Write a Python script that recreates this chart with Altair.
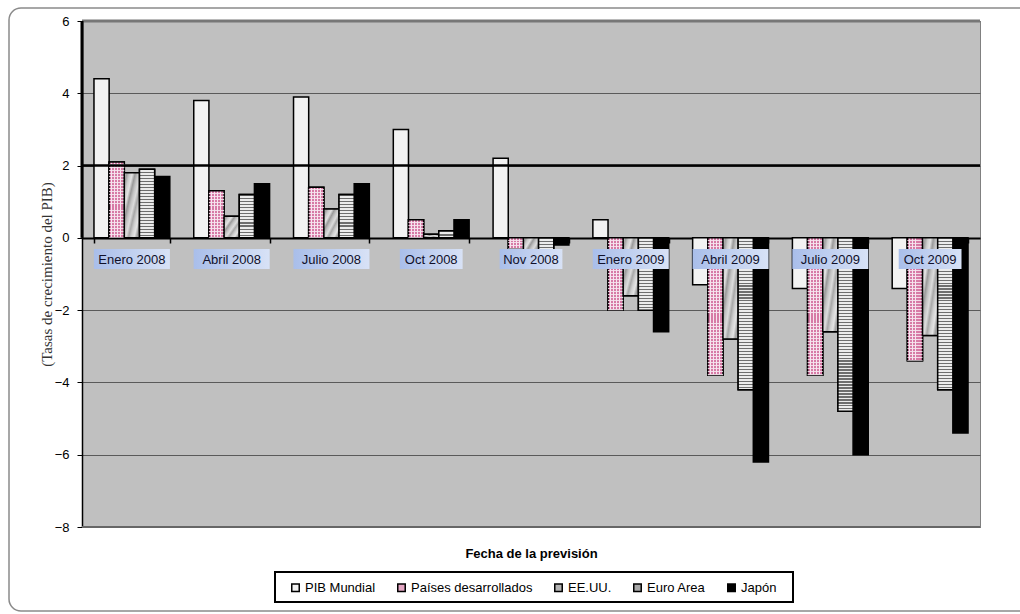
import altair as alt
import pandas as pd

# Fecha de cada previsión del FMI
fechas = ["Enero 2008", "Abril 2008", "Julio 2008", "Oct 2008", "Nov 2008",
          "Enero 2009", "Abril 2009", "Julio 2009", "Oct 2009"]
series = ["PIB Mundial", "Países desarrollados", "EE.UU.", "Euro Area", "Japón"]

# Tasas de crecimiento previstas (%)
pib_mundial = [4.4, 3.8, 3.9, 3.0, 2.2, 0.5, -1.3, -1.4, -1.4]
paises_desarrollados = [2.1, 1.3, 1.4, 0.5, -0.3, -2.0, -3.8, -3.8, -3.4]
eeuu = [1.8, 0.6, 0.8, 0.1, -0.7, -1.6, -2.8, -2.6, -2.7]
euro_area = [1.9, 1.2, 1.2, 0.2, -0.5, -2.0, -4.2, -4.8, -4.2]
japon = [1.7, 1.5, 1.5, 0.5, -0.2, -2.6, -6.2, -6.0, -5.4]

colores = ["#F2F2F2", "#E3A6C3", "#B4B4B4", "#A8A8A8", "#000000"]

ALTO = 506
ANCHO = 898
Y_MIN, Y_MAX = -8, 6
PX_POR_UNIDAD = ALTO / (Y_MAX - Y_MIN)

filas = []
for serie, valores in zip(series, [pib_mundial, paises_desarrollados, eeuu, euro_area, japon]):
    for fecha, valor in zip(fechas, valores):
        filas.append({"fecha": fecha, "serie": serie, "valor": valor})
df = pd.DataFrame(filas)
etiquetas = pd.DataFrame({"fecha": fechas})
uno = pd.DataFrame({"k": [0]})


def rayado(n, oscuro, claro, frac, vertical=True):
    """Degradado con n franjas de borde duro."""
    paradas = []
    for i in range(n):
        a, b, c = i / n, (i + frac) / n, (i + 1) / n
        paradas += [alt.GradientStop(color=oscuro, offset=a),
                    alt.GradientStop(color=oscuro, offset=b),
                    alt.GradientStop(color=claro, offset=b),
                    alt.GradientStop(color=claro, offset=c)]
    if vertical:
        return alt.Gradient(gradient="linear", stops=paradas, x1=0, x2=0, y1=0, y2=1)
    return alt.Gradient(gradient="linear", stops=paradas, x1=0, x2=1, y1=0, y2=0)


def franjas_por_altura(valor, periodo=3.0):
    return max(1, round(abs(valor) * PX_POR_UNIDAD / periodo))


azul = alt.Gradient(
    gradient="linear",
    stops=[alt.GradientStop(color="#A9BEEA", offset=0),
           alt.GradientStop(color="#D8E2F6", offset=1)],
    x1=0, x2=1, y1=0, y2=0,
)

marmol_tonos = ["#d6d6d6", "#a0a0a0", "#cdcdcd", "#e2e2e2", "#9a9a9a", "#c4c4c4",
                "#dcdcdc", "#a8a8a8", "#d0d0d0", "#e4e4e4", "#9e9e9e", "#c8c8c8"]
marmol = alt.Gradient(
    gradient="linear",
    stops=[alt.GradientStop(color=c, offset=i / (len(marmol_tonos) - 1))
           for i, c in enumerate(marmol_tonos)],
    x1=0, x2=1, y1=0, y2=1,
)

x_enc = alt.X(
    "fecha:N", sort=fechas,
    scale=alt.Scale(paddingInner=0.24, paddingOuter=0.12),
    axis=alt.Axis(
        offset=-289, domainColor="black", domainWidth=2,
        ticks=True, tickBand="extent", tickColor="black", tickSize=5, tickWidth=1.5,
        labels=False, grid=False,
        title="Fecha de la previsión", titleFont="Liberation Sans", titleFontSize=13,
        titleFontWeight="bold", titleColor="black", titleY=315, titleBaseline="middle",
    ),
)
y_enc = alt.Y(
    "valor:Q",
    scale=alt.Scale(domain=[Y_MIN, Y_MAX], nice=False),
    axis=alt.Axis(
        values=list(range(Y_MIN, Y_MAX + 1, 2)), grid=True, gridColor="#5a5a5a", gridWidth=1,
        domainColor="black", domainWidth=1.5, tickColor="black", tickSize=5,
        labelPadding=8, labelFont="Liberation Sans", labelFontSize=13, labelColor="black",
        title="(Tasas de crecimiento del PIB)", titleFont="Liberation Serif",
        titleFontSize=15, titleFontWeight="normal", titleColor="#333333",
        titleX=-36, titleY=253, titleAngle=270, titleAlign="center", titleBaseline="middle",
    ),
)
xoff = alt.XOffset("serie:N", sort=series, scale=alt.Scale(paddingInner=0, paddingOuter=0))


def capa_barras(filtro, relleno, trazo=True):
    marca = {"fill": relleno}
    if trazo:
        marca.update(stroke="black", strokeWidth=1.5)
    else:
        marca.update(strokeWidth=0)
    return alt.Chart(df).transform_filter(filtro).mark_bar(**marca).encode(
        x=alt.X("fecha:N", sort=fechas),
        xOffset=alt.XOffset("serie:N", sort=series),
        y="valor:Q",
    )


# Marco redondeado alrededor del gráfico (su lado derecho queda fuera de la página)
marco = alt.Chart(uno).mark_rect(
    fillOpacity=0, stroke="#8a8a8a", strokeWidth=1.5,
    cornerRadiusTopLeft=12, cornerRadiusBottomLeft=12,
).encode(x=alt.value(-73), x2=alt.value(1400), y=alt.value(-13), y2=alt.value(590))

caja_leyenda = alt.Chart(uno).mark_rect(
    fill="white", stroke="black", strokeWidth=2
).encode(x=alt.value(193), x2=alt.value(711), y=alt.value(551), y2=alt.value(581))

barras = alt.Chart(df).mark_bar(stroke="black", strokeWidth=1.5).encode(
    x=x_enc, xOffset=xoff, y=y_enc,
    fill=alt.Fill(
        "serie:N", sort=series,
        scale=alt.Scale(domain=series, range=colores),
        legend=alt.Legend(
            title=None, orient="none", legendX=207, legendY=560, direction="horizontal",
            symbolType="square", symbolSize=56, symbolStrokeColor="black",
            symbolStrokeWidth=1.5, labelFont="Liberation Sans", labelFontSize=13,
            labelColor="black", columnPadding=18, labelOffset=3, padding=0,
        ),
    ),
)

# Texturas de las series
texturas = []
# Países desarrollados: cuadrícula rosa
texturas.append(capa_barras(
    alt.datum.serie == "Países desarrollados",
    rayado(5, "#D77AA6", "#F6E4EE", 0.68, vertical=False),
))
for fecha, valor in zip(fechas, paises_desarrollados):
    texturas.append(capa_barras(
        (alt.datum.serie == "Países desarrollados") & (alt.datum.fecha == fecha),
        rayado(franjas_por_altura(valor), "rgba(255,255,255,0)", "rgba(246,228,238,0.9)", 0.68),
        trazo=False,
    ))
# EE.UU.: gris jaspeado
texturas.append(capa_barras(alt.datum.serie == "EE.UU.", marmol))
# Zona euro: rayas horizontales
for fecha, valor in zip(fechas, euro_area):
    texturas.append(capa_barras(
        (alt.datum.serie == "Euro Area") & (alt.datum.fecha == fecha),
        rayado(franjas_por_altura(valor), "#6e6e6e", "#ececec", 0.38),
    ))

linea_2 = alt.Chart(uno).mark_rule(color="black", strokeWidth=2.5).encode(y=alt.datum(2))
linea_sup = alt.Chart(uno).mark_rule(color="#777777", strokeWidth=3).encode(y=alt.datum(Y_MAX))
linea_inf = alt.Chart(uno).mark_rule(color="#666666", strokeWidth=2).encode(y=alt.datum(Y_MIN))
eje_grueso = alt.Chart(uno).mark_rule(color="black", strokeWidth=3).encode(
    x=alt.value(0), y=alt.datum(Y_MAX), y2=alt.datum(0)
)

fondo_etiquetas = alt.Chart(etiquetas).transform_calculate(
    ancho="length(datum.fecha) * 6.6 + 10"
).mark_bar(fill=azul).encode(
    x=alt.X("fecha:N", sort=fechas),
    y=alt.value(228), y2=alt.value(248),
    size=alt.Size("ancho:Q", scale=None, legend=None),
)
texto_etiquetas = alt.Chart(etiquetas).mark_text(
    font="Liberation Sans", fontSize=13, color="#10102a", baseline="middle"
).encode(x=alt.X("fecha:N", sort=fechas), y=alt.value(238.5), text="fecha:N")

chart = alt.layer(
    marco, caja_leyenda, linea_sup, linea_inf, barras, *texturas,
    linea_2, eje_grueso, fondo_etiquetas, texto_etiquetas,
).properties(
    width=ANCHO, height=ALTO,
    autosize=alt.AutoSizeParams(type="none"),
    padding={"left": 82, "top": 21, "right": 40, "bottom": 87},
).configure_view(
    fill="#C0C0C0", stroke="#808080", strokeWidth=1
)

chart.save("out.html", embed_options={"renderer": "svg", "actions": False})
